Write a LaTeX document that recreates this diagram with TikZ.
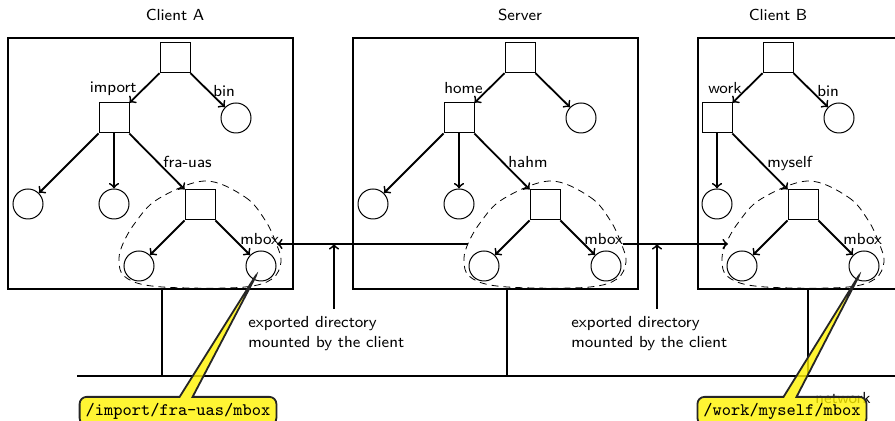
\documentclass[tikz,border=0pt]{standalone}
\usepackage{fontspec}
\usetikzlibrary{shapes.callouts,calc}

% closed dashed outline around an exported subtree (drawn relative to its root)
\newcommand\exportblob{%
  \draw[blob] plot[smooth cycle, tension=0.6] coordinates {
    (5,-24) (45,-8) (65,15) (76,38) (81,57) (72,74) (45,82) (-12,83)
    (-55,80) (-76,71) (-81,57) (-78,41) (-65,18) (-42,-6)};}

\begin{document}
\begin{tikzpicture}[x=0.5pt,y=-0.5pt,
  font=\sffamily\fontsize{8}{10}\selectfont,
  machine/.style={draw,line width=1pt,rectangle,inner sep=0,
    minimum width=142.5pt,minimum height=125.5pt},
  dirnode/.style={draw,line width=0.5pt,rectangle,inner sep=0,minimum size=15pt},
  filenode/.style={draw,line width=0.5pt,circle,inner sep=0,minimum size=15pt},
  treeedge/.style={->,line width=0.9pt},
  lbl/.style={inner sep=0},
  blob/.style={line width=0.4pt,dash pattern=on 3.5pt off 2.5pt},
  mountarrow/.style={->,line width=0.9pt},
  netline/.style={line width=1.4pt},
  tap/.style={line width=1.1pt},
  pathcallout/.style={rectangle callout,draw=black!85,line width=0.9pt,
    fill=yellow,fill opacity=0.8,text opacity=1,rounded corners=3.5pt,
    inner xsep=3pt,inner ysep=3pt,callout pointer width=6.5pt,
    font=\ttfamily\fontsize{8.8}{10}\selectfont},
]
\useasboundingbox (0,0) rectangle (895,421);
\clip (0,0) rectangle (895,421);

% machines
\node[machine] (boxA) at (150.5,163.5) {};
\node[machine] (boxS) at (495.5,163.5) {};
\node[machine] (boxB) at (840.5,163.5) {};
\node[anchor=base] (ttlA) at (175,21) {Client A};
\node[anchor=base] (ttlS) at (520,21) {Server};
\node[anchor=base] (ttlB) at (778,21) {Client B};

% file tree of client A
\begin{scope}[shift={(175,58)}]
  \node[dirnode] (a0) at (0,0) {};
  \node[dirnode] (a1) at (-61,60) {};
  \node[filenode] (a2) at (61,60) {};
  \node[filenode] (a11) at (-147,146) {};
  \node[filenode] (a12) at (-61,146) {};
  \node[dirnode] (a13) at (25,147) {};
  \node[filenode] (a131) at (-36,208) {};
  \node[filenode] (a132) at (86,208) {};
\end{scope}
\begin{scope}[shift={(200,205)}]\exportblob\end{scope}
\foreach \p/\c in {a0/a1,a0/a2,a1/a11,a1/a12,a1/a13,a13/a131,a13/a132}
  \draw[treeedge] (\p) -- (\c);
\node[lbl,anchor=base east] (la1) at (137,93) {import};
\node[lbl,anchor=base west] (la2) at (213,97) {bin};
\node[lbl,anchor=base west] (la13) at (163,168) {fra-uas};
\node[lbl,anchor=base west] (la132) at (240,245) {mbox};

% file tree of the server
\begin{scope}[shift={(520,58)}]
  \node[dirnode] (s0) at (0,0) {};
  \node[dirnode] (s1) at (-61,60) {};
  \node[filenode] (s2) at (61,60) {};
  \node[filenode] (s11) at (-147,146) {};
  \node[filenode] (s12) at (-61,146) {};
  \node[dirnode] (s13) at (25,147) {};
  \node[filenode] (s131) at (-36,208) {};
  \node[filenode] (s132) at (86,208) {};
\end{scope}
\begin{scope}[shift={(545,205)}]\exportblob\end{scope}
\foreach \p/\c in {s0/s1,s0/s2,s1/s11,s1/s12,s1/s13,s13/s131,s13/s132}
  \draw[treeedge] (\p) -- (\c);
\node[lbl,anchor=base east] (ls1) at (483,94) {home};
\node[lbl,anchor=base west] (ls13) at (508,168) {hahm};
\node[lbl,anchor=base west] (ls132) at (584,245) {mbox};

% file tree of client B
\begin{scope}[shift={(778,58)}]
  \node[dirnode] (b0) at (0,0) {};
  \node[dirnode] (b1) at (-61,60) {};
  \node[filenode] (b2) at (61,60) {};
  \node[filenode] (b12) at (-61,146) {};
  \node[dirnode] (b13) at (25,147) {};
  \node[filenode] (b131) at (-36,208) {};
  \node[filenode] (b132) at (86,208) {};
\end{scope}
\begin{scope}[shift={(803,205)}]\exportblob\end{scope}
\foreach \p/\c in {b0/b1,b0/b2,b1/b12,b1/b13,b13/b131,b13/b132}
  \draw[treeedge] (\p) -- (\c);
\node[lbl,anchor=base east] (lb1) at (742,94) {work};
\node[lbl,anchor=base west] (lb2) at (817,97) {bin};
\node[lbl,anchor=base west] (lb13) at (767,168) {myself};
\node[lbl,anchor=base west] (lb132) at (843,245) {mbox};

% mounts
\coordinate (srvL) at (468,244);
\coordinate (tipA) at (277,244);
\coordinate (srvR) at (623,244);
\coordinate (tipB) at (728,244);
\draw[mountarrow] (srvL) -- (tipA);
\draw[mountarrow] (srvR) -- (tipB);
\coordinate (vA) at (334,309);
\coordinate (vB) at (657,309);
\draw[mountarrow] (vA) -- (vA |- tipA);
\draw[mountarrow] (vB) -- (vB |- tipB);
\node[anchor=north west,align=left,inner sep=0] (txtA) at (248,316)
  {exported directory\\mounted by the client};
\node[anchor=north west,align=left,inner sep=0] (txtB) at (571,316)
  {exported directory\\mounted by the client};

% network
\coordinate (netW) at (77,376);
\coordinate (netE) at (900,376);
\draw[netline] (netW) -- (netE);
\coordinate (tapA) at (162,376);
\coordinate (tapS) at (507,376);
\coordinate (tapB) at (808,376);
\draw[tap] (tapA) -- (tapA |- boxA.south);
\draw[tap] (tapS) -- (tapS |- boxS.south);
\draw[tap] (tapB) -- (tapB |- boxB.south);
\node[anchor=base] (netlbl) at (843,404) {network};

% path callouts
\coordinate (ptrA) at ($(a132)+(-3,6)$);
\coordinate (ptrB) at ($(b132)+(-3,6)$);
\node[pathcallout,anchor=north,callout absolute pointer={(ptrA)}] (cA) at (178,396)
  {/import/fra-uas/mbox};
\node[pathcallout,anchor=north,callout absolute pointer={(ptrB)}] (cB) at (782,396)
  {/work/myself/mbox};
\end{tikzpicture}
\end{document}
